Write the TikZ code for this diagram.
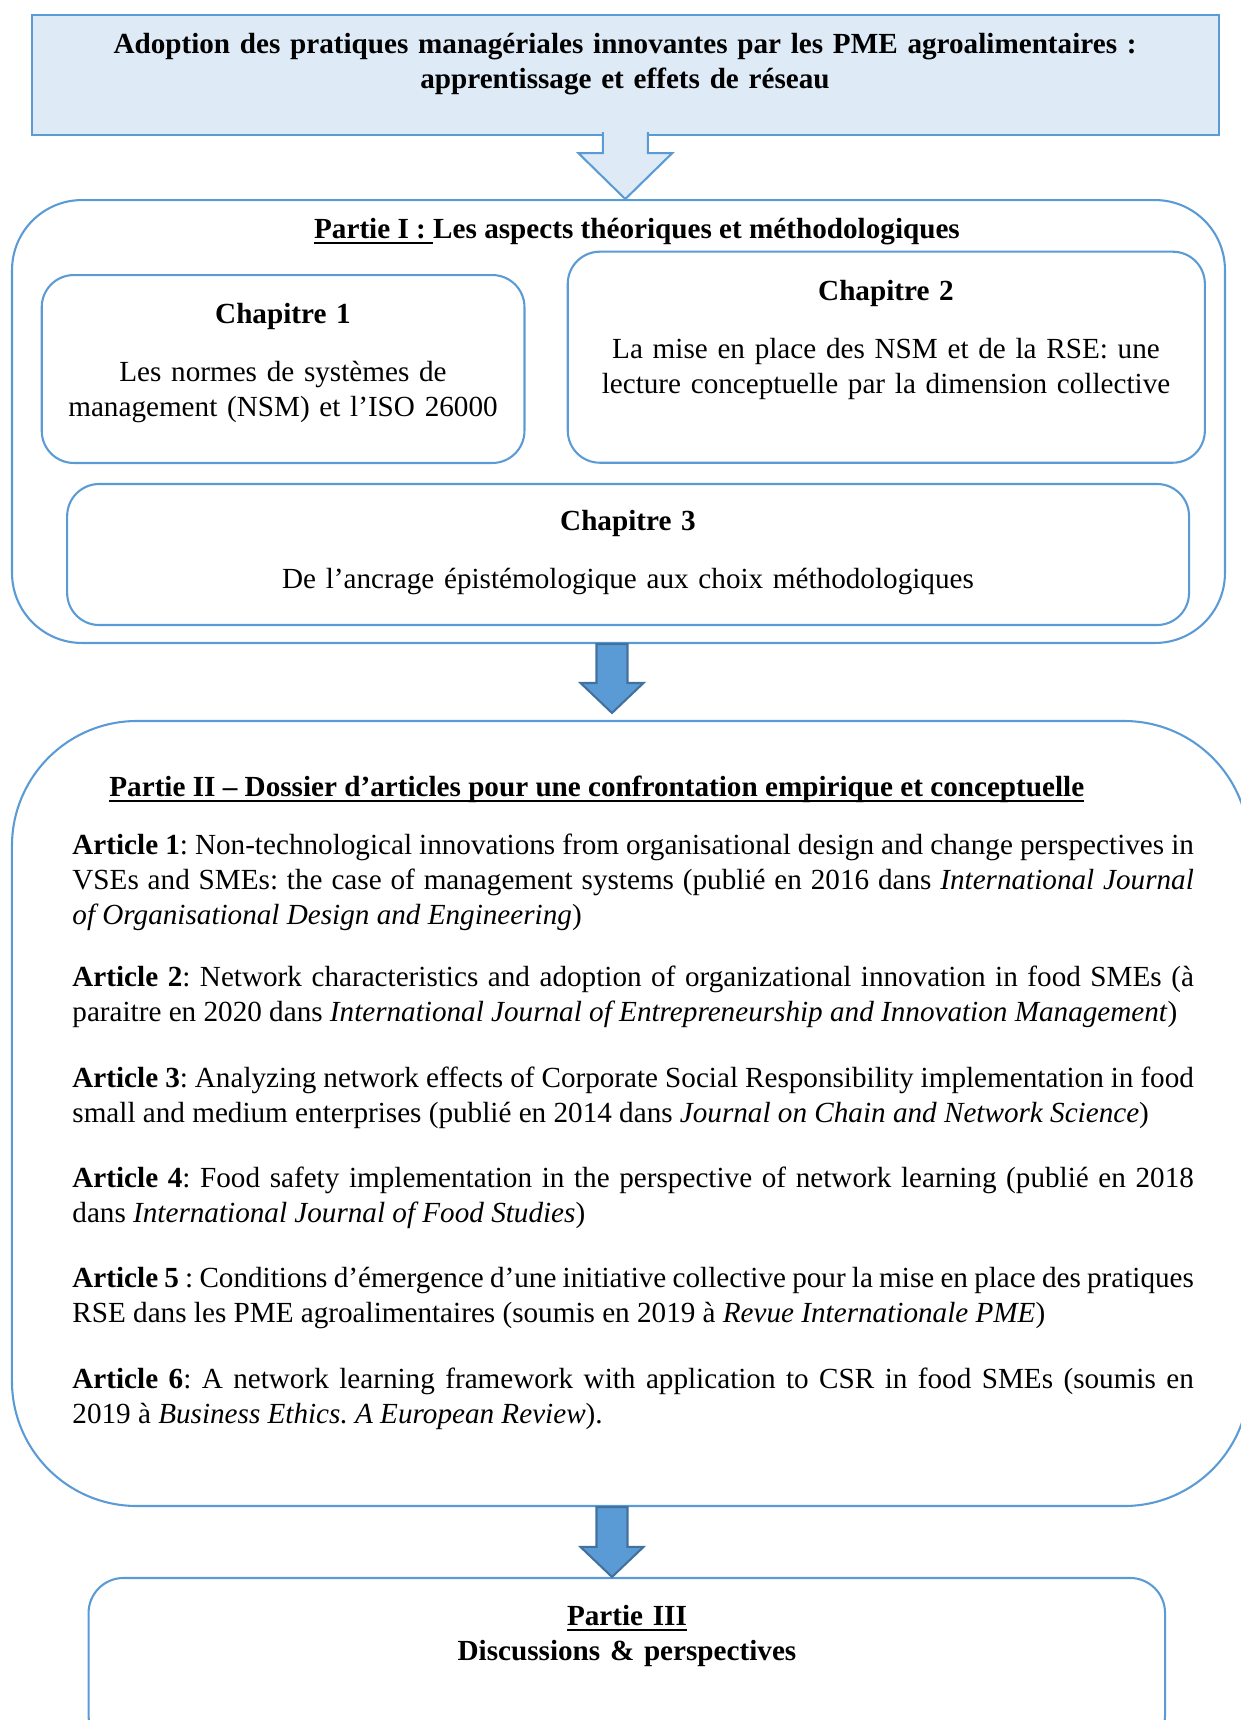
\documentclass[tikz,border=0pt]{standalone}
\usepackage{fontspec}
\setmainfont{Liberation Serif}
\usetikzlibrary{calc}

\definecolor{bleu}{HTML}{5B9BD5}
\definecolor{bleuclair}{HTML}{DEEBF7}
\definecolor{bleufonce}{HTML}{41719C}
\newcommand{\souligne}[1]{\setbox0\hbox{#1}\rlap{\rule[-2.8pt]{\wd0}{1pt}}\box0}
\hyphenpenalty=10000
\exhyphenpenalty=10000
\frenchspacing

\begin{document}
\begin{tikzpicture}[x=0.48pt, y=-0.48pt]
          \tikzstyle{cadre}=[rectangle, draw=bleu, line width=1pt, rounded corners=15.4pt]
          \tikzstyle{texte}=[inner sep=0pt, font=\fontsize{14pt}{16.8pt}\selectfont]
          \tikzstyle{article}=[inner sep=0pt, font=\fontsize{14pt}{17pt}\selectfont, text width=538.3pt, align=justify, anchor=base west]
          \tikzstyle{fleche}=[fill=bleu, draw=bleufonce, line width=1pt]
          \tikzstyle{flechecreuse}=[fill=bleuclair, draw=bleu, line width=1pt]

          \useasboundingbox (0,0) rectangle (1241,1720);

          \node[cadre, sharp corners, fill=bleuclair, minimum width=569.9pt, minimum height=57.6pt] (titre) at (625.3,75) {};
          \node[texte, text width=540pt, align=center, anchor=base] (titretxt) at (625,53)
            {\textbf{Adoption des pratiques managériales innovantes par les PME agroalimentaires :}\\\textbf{apprentissage et effets de réseau}};

          \node[cadre, rounded corners=33.6pt, minimum width=582.2pt, minimum height=212.6pt] (partie1) at (618.5,421.5) {};
          \node[texte, anchor=base] (partie1txt) at (637,238)
            {\textbf{\souligne{Partie I :\ }Les aspects théoriques et méthodologiques}};

          \node[cadre, minimum width=231.7pt, minimum height=90.2pt] (chap1) at (283.1,369) {};
          \node[texte, text width=230pt, align=center, anchor=base] (chap1txt) at (283,323)
            {\textbf{Chapitre 1}\\[11.5pt]Les normes de systèmes de\\management (NSM) et l’ISO 26000};

          \node[cadre, minimum width=305.8pt, minimum height=101.3pt] (chap2) at (886.3,357.2) {};
          \node[texte, text width=300pt, align=center, anchor=base] (chap2txt) at (886,300)
            {\textbf{Chapitre 2}\\[11.5pt]La mise en place des NSM et de la RSE: une\\lecture conceptuelle par la dimension collective};

          \node[cadre, minimum width=538.5pt, minimum height=67.7pt] (chap3) at (628.1,554.5) {};
          \node[texte, text width=500pt, align=center, anchor=base] (chap3txt) at (628,530)
            {\textbf{Chapitre 3}\\[11.5pt]De l’ancrage épistémologique aux choix méthodologiques};

          \node[cadre, rounded corners=60pt, minimum width=593.8pt, minimum height=376.8pt] (partie2) at (630.5,1113.5) {};
          \node[texte, anchor=base west] (partie2txt) at (109,796)
            {\textbf{\souligne{Partie II – Dossier d’articles pour une confrontation empirique et conceptuelle}}};

          \node[article] (art1) at (72,854) {\textbf{Article 1}: Non-technological innovations from organisational design and change perspectives in VSEs and SMEs: the case of management systems (publié en 2016 dans \textit{International Journal\linebreak of Organisational Design and Engineering})};
          \node[article] (art2) at (72,986) {\textbf{Article 2}: Network characteristics and adoption of organizational innovation in food SMEs (à paraitre en 2020 dans \textit{International Journal of Entrepreneurship and Innovation Management})};
          \node[article] (art3) at (72,1087) {\textbf{Article 3}: Analyzing network effects of Corporate Social Responsibility implementation in food small and medium enterprises (publié en 2014 dans \textit{Journal on Chain and Network Science})};
          \node[article] (art4) at (72,1187) {\textbf{Article 4}: Food safety implementation in the perspective of network learning (publié en 2018 dans \textit{International Journal of Food Studies})};
          \node[article] (art5) at (72,1287) {\textbf{Article 5} : Conditions d’émergence d’une initiative collective pour la mise en place des pratiques RSE dans les PME agroalimentaires (soumis en 2019 à \textit{Revue Internationale PME})};
          \node[article] (art6) at (72,1388) {\textbf{Article 6}: A network learning framework with application to CSR in food SMEs (soumis en\linebreak 2019 à \textit{Business Ethics. A European Review}).};

          \node[cadre, rounded corners=16.8pt, minimum width=516.7pt, minimum height=82.6pt] (partie3) at (626.8,1664) {};
          \node[texte, text width=300pt, align=center, anchor=base] (partie3txt) at (627,1625)
            {\textbf{\souligne{Partie III}}\\\textbf{Discussions \& perspectives}};

          \coordinate (axe) at (612,0);

          \draw[flechecreuse] ($(titre.south)+(-22.5,-4)$) -- ($(titre.south)+(-22.5,17)$) -- ($(titre.south)+(-47,17)$)
            -- ($(titre.south)+(0,63)$) -- ($(titre.south)+(47,17)$) -- ($(titre.south)+(22.5,17)$) -- ($(titre.south)+(22.5,-4)$);

          \draw[fleche] ($(axe |- partie1.south)+(-15.5,0)$) -- ($(axe |- partie2.north)+(-15.5,-37)$) -- ($(axe |- partie2.north)+(-31.5,-37)$)
            -- ($(axe |- partie2.north)+(0,-7)$) -- ($(axe |- partie2.north)+(31.5,-37)$) -- ($(axe |- partie2.north)+(15.5,-37)$)
            -- ($(axe |- partie1.south)+(15.5,0)$) -- cycle;

          \draw[fleche] ($(axe |- partie2.south)+(-15.5,0)$) -- ($(axe |- partie3.north)+(-15.5,-30)$) -- ($(axe |- partie3.north)+(-31.5,-30)$)
            -- (axe |- partie3.north) -- ($(axe |- partie3.north)+(31.5,-30)$) -- ($(axe |- partie3.north)+(15.5,-30)$)
            -- ($(axe |- partie2.south)+(15.5,0)$) -- cycle;

        \end{tikzpicture}
\end{document}
